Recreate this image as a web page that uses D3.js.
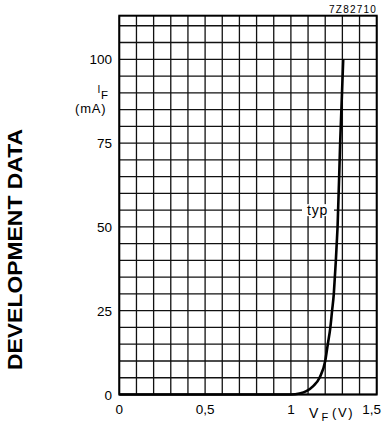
<!DOCTYPE html>
<html><head><meta charset="utf-8">
<script src="https://cdn.jsdelivr.net/npm/d3@7"></script>
<style>html,body{margin:0;padding:0;background:#fff;}svg{display:block;font-family:"Liberation Sans",Arial,sans-serif;}</style>
</head><body><svg id="c" width="384" height="427"></svg>
<script>
// Data
const vF = [0, 0.9, 1.0, 1.05, 1.09, 1.13, 1.167, 1.2, 1.215, 1.23, 1.24, 1.25, 1.256, 1.262, 1.267, 1.272, 1.287, 1.305];
const iF = [0, 0, 0, 0.3, 1, 2.5, 5, 10, 15, 20, 25, 30, 35, 40, 45, 50, 75, 100];
const xTicks = [0, 0.5, 1, 1.5];
const xTickLabels = ["0", "0,5", "1", "1,5"];
const yTicks = [0, 25, 50, 75, 100];
const yTickLabels = ["0", "25", "50", "75", "100"];
const xDomain = [0, 1.5];
const yDomain = [0, 113];
const xGridStep = 0.1, yGridStep = 5;

const svg = d3.select("#c");
const x = d3.scaleLinear().domain(xDomain).range([119.3, 376.7]);
const y = d3.scaleLinear().domain(yDomain).range([394.5, 15.7]);

// grid
const g = svg.append("g");
const xg = d3.range(0, 15.5).map(i => +(i * xGridStep).toFixed(2));
const yg = d3.range(0, 23).map(i => i * yGridStep).filter(v => v <= 110);
g.selectAll(".vx").data(xg).join("line")
  .attr("x1", d => x(d)).attr("x2", d => x(d))
  .attr("y1", y(yDomain[1])).attr("y2", y(0))
  .attr("stroke", "#111").attr("stroke-width", 1.3);
g.selectAll(".hy").data(yg).join("line")
  .attr("x1", x(0)).attr("x2", x(1.5))
  .attr("y1", d => y(d)).attr("y2", d => y(d))
  .attr("stroke", "#111").attr("stroke-width", 1.3);
// border
svg.append("rect").attr("x", x(0)).attr("y", y(yDomain[1]))
  .attr("width", x(1.5) - x(0)).attr("height", y(0) - y(yDomain[1]))
  .attr("fill", "none").attr("stroke", "#000").attr("stroke-width", 2);

// typ label with white background
svg.append("rect").attr("x", 302).attr("y", y(55) - 6).attr("width", 32).attr("height", 12).attr("fill", "#fff");
svg.append("text").attr("x", 317.5).attr("y", y(55) + 5).attr("text-anchor", "middle")
  .attr("font-size", 14).attr("letter-spacing", 0.8).text("typ");

// curve
const pts = vF.map((v, i) => [v, iF[i]]);
svg.append("path").datum(pts)
  .attr("d", d3.line().x(d => x(d[0])).y(d => y(d[1])).curve(d3.curveMonotoneX))
  .attr("fill", "none").attr("stroke", "#000").attr("stroke-width", 2.6);

// y tick labels
svg.selectAll(".yl").data(yTicks).join("text")
  .attr("x", 112).attr("y", d => y(d) + 5).attr("text-anchor", "end")
  .attr("font-size", 13.5).text((d, i) => yTickLabels[i]);
// x tick labels
svg.selectAll(".xl").data(xTicks).join("text")
  .attr("x", (d, i) => x(d) + (i === xTicks.length - 1 ? -5 : 0)).attr("y", 414)
  .attr("text-anchor", "middle").attr("font-size", 13.5).text((d, i) => xTickLabels[i]);

// axis titles
svg.append("text").attr("x", 97.5).attr("y", 93).attr("font-size", 10).text("I");
svg.append("text").attr("x", 101).attr("y", 98.5).attr("font-size", 11.5).text("F");
svg.append("text").attr("x", 75).attr("y", 113).attr("font-size", 13).attr("letter-spacing", 0.8).text("(mA)");
svg.append("text").attr("x", 309).attr("y", 418).attr("font-size", 14).text("V");
svg.append("text").attr("x", 321.5).attr("y", 421).attr("font-size", 11).text("F");
svg.append("text").attr("x", 332).attr("y", 417).attr("font-size", 13).attr("letter-spacing", 1.6).text("(V)");

// code
svg.append("text").attr("x", 377).attr("y", 13.3).attr("text-anchor", "end")
  .attr("font-size", 10).attr("letter-spacing", 1.2).text("7Z82710");

// side label
svg.append("text").attr("transform", "translate(22.3,249.5) rotate(-90)")
  .attr("text-anchor", "middle").attr("font-size", 21).attr("font-weight", "bold")
  .attr("textLength", 241).attr("lengthAdjust", "spacingAndGlyphs").text("DEVELOPMENT DATA");
</script></body></html>
